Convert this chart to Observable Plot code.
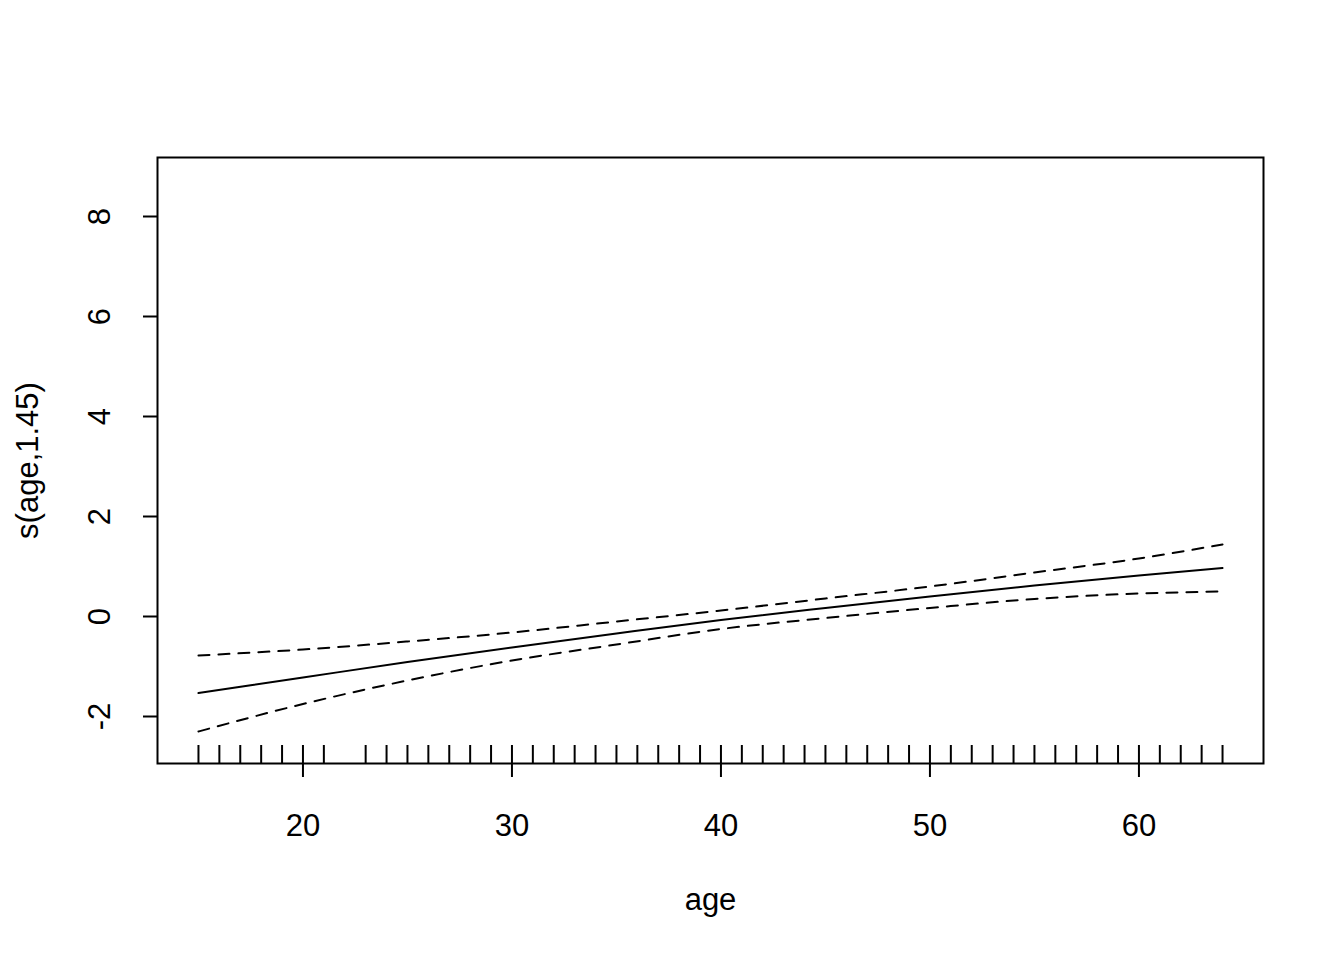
<!DOCTYPE html>
<html>
<head>
<meta charset="utf-8">
<script src="https://cdn.jsdelivr.net/npm/d3@7"></script>
<script src="https://cdn.jsdelivr.net/npm/@observablehq/plot@0.6"></script>
<style>
  html, body { margin: 0; padding: 0; background: #fff; }
  #chart svg { display: block; font-family: "Liberation Sans", Arial, Helvetica, sans-serif; }
</style>
</head>
<body>
<div id="chart"></div>
<script>
// Smooth term s(age, 1.45) with ±2 SE bands
const ages  = [15, 20, 25, 30, 35, 40, 45, 50, 55, 60, 64];
const fit   = [-1.53, -1.22, -0.91, -0.62, -0.34, -0.07, 0.17, 0.40, 0.62, 0.82, 0.97];
const upper = [-0.78, -0.66, -0.50, -0.32, -0.10, 0.12, 0.36, 0.60, 0.88, 1.16, 1.44];
const lower = [-2.30, -1.75, -1.28, -0.88, -0.56, -0.25, -0.03, 0.17, 0.35, 0.46, 0.50];

// rug: observed ages (22 absent)
const rugAges = [15,16,17,18,19,20,21,23,24,25,26,27,28,29,30,31,32,33,34,35,36,37,38,39,40,
  41,42,43,44,45,46,47,48,49,50,51,52,53,54,55,56,57,58,59,60,61,62,63,64];

const xTicks = [20, 30, 40, 50, 60];
const yTicks = [-2, 0, 2, 4, 6, 8];
const xLabel = "age";
const yLabel = "s(age,1.45)";

const rows = ages.map((a, i) => ({age: a, fit: fit[i], upper: upper[i], lower: lower[i]}));

const fontSize = 31;
const chart = Plot.plot({
  width: 1344,
  height: 960,
  marginLeft: 157,
  marginRight: 81,
  marginTop: 157,
  marginBottom: 197,
  style: {fontSize: fontSize + "px", fontFamily: "'Liberation Sans', Arial, Helvetica, sans-serif", background: "#fff", color: "#000"},
  x: {domain: [13.04, 65.96]},
  y: {domain: [-2.94, 9.18]},
  marks: [
    Plot.tickX(rugAges, {x: d => d, insetTop: 588, stroke: "#000", strokeWidth: 2}),
    Plot.line(rows, {x: "age", y: "fit", stroke: "#000", strokeWidth: 2, curve: "monotone-x"}),
    Plot.line(rows, {x: "age", y: "upper", stroke: "#000", strokeWidth: 2, strokeDasharray: "11,9", curve: "monotone-x"}),
    Plot.line(rows, {x: "age", y: "lower", stroke: "#000", strokeWidth: 2, strokeDasharray: "11,9", curve: "monotone-x"}),
    Plot.axisX(xTicks, {anchor: "bottom", tickSize: 14, tickPadding: 36, strokeWidth: 2, fontSize: fontSize,
      tickFormat: d => String(d), label: null}),
    Plot.axisY(yTicks, {anchor: "left", tickSize: 14, strokeWidth: 2, tickFormat: () => "", label: null}),
    Plot.text(yTicks, {y: d => d, text: d => String(d), frameAnchor: "left", rotate: -90, dx: -48,
      textAnchor: "middle", lineAnchor: "bottom", fontSize: fontSize}),
    Plot.text([xLabel], {text: d => d, frameAnchor: "bottom", dy: 146, lineAnchor: "bottom", fontSize: fontSize}),
    Plot.text([yLabel], {text: d => d, frameAnchor: "left", rotate: -90, dx: -120, lineAnchor: "bottom",
      textAnchor: "middle", fontSize: fontSize}),
    Plot.frame({stroke: "#000", strokeWidth: 2})
  ]
});
document.getElementById("chart").appendChild(chart);
</script>
</body>
</html>
